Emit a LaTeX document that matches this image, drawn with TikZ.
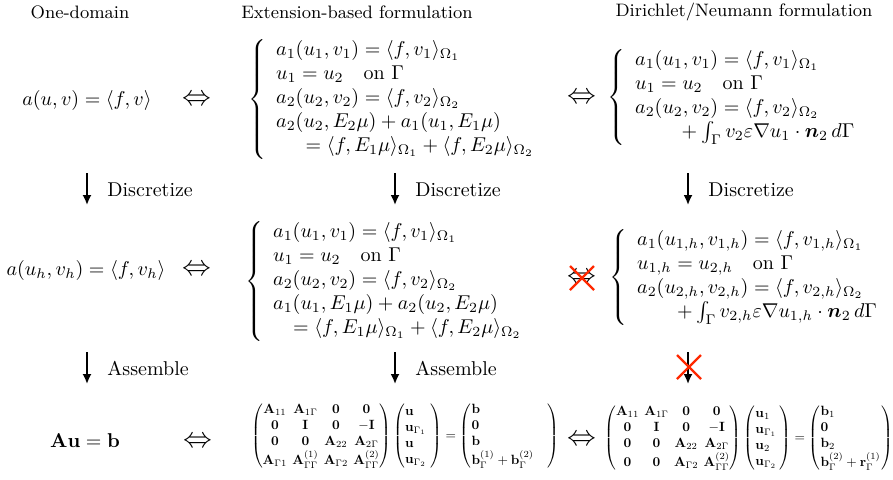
\documentclass[tikz,border=0pt]{standalone}
\usepackage{amsmath,amssymb,graphicx}
\usetikzlibrary{arrows.meta}
\definecolor{xred}{RGB}{255,40,0}
\newcommand{\bigiff}{{\Large$\Leftrightarrow$}}
\newcommand{\tightcols}{\setlength{\arraycolsep}{2pt}}
\begin{document}
\begin{tikzpicture}[x=0.5pt,y=-0.5pt,
  hdr/.style={font=\small, inner sep=0pt},
  eqn/.style={inner sep=0pt},
  sys/.style={inner sep=0pt, anchor=west},
  mat/.style={inner sep=0pt},
  flow/.style={-{Latex[length=5pt,width=4.5pt]}, line width=0.9pt},
  lbl/.style={anchor=west, inner sep=0pt},
  cross/.style={draw=xred, line width=1.1pt}]
\useasboundingbox (0,0) rectangle (893,479);

% headers
\node[hdr] (h1) at (80,12) {One-domain};
\node[hdr] (h2) at (357,12) {Extension-based formulation};
\node[hdr] (h3) at (744,12) {Dirichlet/Neumann formulation};

% row 1
\node[eqn] (r1a) at (87,100) {$a(u,v) = \langle f, v\rangle$};
\node[eqn] (r1i) at (197,100) {\bigiff};
\node[sys] (r1b) at (248,99) {$\left\{\begin{array}{l}
 a_1(u_1,v_1) = \langle f, v_1\rangle_{\Omega_1}\\
 u_1 = u_2 \quad \text{on } \Gamma\\
 a_2(u_2,v_2) = \langle f, v_2\rangle_{\Omega_2}\\
 a_2(u_2,E_2\mu) + a_1(u_1,E_1\mu)\\
 \hspace*{12pt}{}= \langle f, E_1\mu\rangle_{\Omega_1} + \langle f, E_2\mu\rangle_{\Omega_2}
 \end{array}\right.$};
\node[eqn] (r1j) at (582,98) {\bigiff};
\node[sys] (r1c) at (607,97) {$\left\{\begin{array}{l}
 a_1(u_1,v_1) = \langle f, v_1\rangle_{\Omega_1}\\
 u_1 = u_2 \quad \text{on } \Gamma\\
 a_2(u_2,v_2) = \langle f, v_2\rangle_{\Omega_2}\\
 \hspace*{21pt}{}+ \int_\Gamma v_2 \varepsilon \nabla u_1 \cdot \boldsymbol{n}_2 \, d\Gamma
 \end{array}\right.$};

% arrows row 1 -> 2
\coordinate (a1s) at (87,173); \coordinate (a1e) at (87,205);
\coordinate (b1s) at (395,173); \coordinate (b1e) at (395,205);
\coordinate (c1s) at (688,173); \coordinate (c1e) at (688,205);
\draw[flow] (a1s) -- (a1e);
\draw[flow] (b1s) -- (b1e);
\draw[flow] (c1s) -- (c1e);
\node[lbl] (l1a) at (107,190) {Discretize};
\node[lbl] (l1b) at (415,190) {Discretize};
\node[lbl] (l1c) at (708,190) {Discretize};

% row 2
\node[eqn] (r2a) at (86,270) {$a(u_h,v_h) = \langle f, v_h\rangle$};
\node[eqn] (r2i) at (197,270) {\bigiff};
\node[sys] (r2b) at (245,281) {$\left\{\begin{array}{l}
 a_1(u_1,v_1) = \langle f, v_1\rangle_{\Omega_1}\\
 u_1 = u_2 \quad \text{on } \Gamma\\
 a_2(u_2,v_2) = \langle f, v_2\rangle_{\Omega_2}\\
 a_1(u_1,E_1\mu) + a_2(u_2,E_2\mu)\\
 \quad = \langle f, E_1\mu\rangle_{\Omega_1} + \langle f, E_2\mu\rangle_{\Omega_2}
 \end{array}\right.$};
\node[eqn] (r2j) at (582,278) {\bigiff};
\draw[cross] ([shift={(-12,-12)}]r2j.center) -- ([shift={(12,12)}]r2j.center);
\draw[cross] ([shift={(-12,12)}]r2j.center) -- ([shift={(12,-12)}]r2j.center);
\node[sys] (r2c) at (609,277) {$\left\{\begin{array}{l}
 a_1(u_{1,h},v_{1,h}) = \langle f, v_{1,h}\rangle_{\Omega_1}\\
 u_{1,h} = u_{2,h} \quad \text{on } \Gamma\\
 a_2(u_{2,h},v_{2,h}) = \langle f, v_{2,h}\rangle_{\Omega_2}\\
 \qquad + \int_\Gamma v_{2,h} \varepsilon \nabla u_{1,h} \cdot \boldsymbol{n}_2 \, d\Gamma
 \end{array}\right.$};

% arrows row 2 -> 3
\coordinate (a2s) at (87,352); \coordinate (a2e) at (87,384);
\coordinate (b2s) at (395,352); \coordinate (b2e) at (395,384);
\coordinate (c2s) at (688,352); \coordinate (c2e) at (688,384);
\draw[flow] (a2s) -- (a2e);
\draw[flow] (b2s) -- (b2e);
\draw[flow] (c2s) -- (c2e);
\coordinate (xc) at (689,367);
\draw[cross] ([shift={(-12,-12)}]xc) -- ([shift={(12,12)}]xc);
\draw[cross] ([shift={(-12,12)}]xc) -- ([shift={(12,-12)}]xc);
\node[lbl] (l2a) at (107,368) {Assemble};
\node[lbl] (l2b) at (415,368) {Assemble};

% row 3
\node[eqn] (r3a) at (85,441) {$\mathbf{A}\mathbf{u} = \mathbf{b}$};
\node[eqn] (r3i) at (198,442) {\bigiff};
\node[mat] (r3b) at (405,436) {\scalebox{0.67}{\tightcols$\begin{pmatrix}
 \mathbf{A}_{11} & \mathbf{A}_{1\Gamma} & \mathbf{0} & \mathbf{0}\\
 \mathbf{0} & \mathbf{I} & \mathbf{0} & -\mathbf{I}\\
 \mathbf{0} & \mathbf{0} & \mathbf{A}_{22} & \mathbf{A}_{2\Gamma}\\
 \mathbf{A}_{\Gamma 1} & \mathbf{A}_{\Gamma\Gamma}^{(1)} & \mathbf{A}_{\Gamma 2} & \mathbf{A}_{\Gamma\Gamma}^{(2)}
 \end{pmatrix}
 \left(\begin{array}{@{}l@{\hspace{3pt}}}\mathbf{u}\\ \mathbf{u}_{\Gamma_1}\\ \mathbf{u}\\ \mathbf{u}_{\Gamma_2}\end{array}\right)
 = \left(\begin{array}{@{}l@{\hspace{10pt}}}\mathbf{b}\\ \mathbf{0}\\ \mathbf{b}\\ \mathbf{b}_\Gamma^{(1)}+\mathbf{b}_\Gamma^{(2)}\end{array}\right)$}};
\node[eqn] (r3j) at (582,440) {\bigiff};
\node[mat] (r3c) at (749,438) {\scalebox{0.67}{\tightcols$\begin{pmatrix}
 \mathbf{A}_{11} & \mathbf{A}_{1\Gamma} & \mathbf{0} & \mathbf{0}\\
 \mathbf{0} & \mathbf{I} & \mathbf{0} & -\mathbf{I}\\
 \mathbf{0} & \mathbf{0} & \mathbf{A}_{22} & \mathbf{A}_{2\Gamma}\\
 \mathbf{0} & \mathbf{0} & \mathbf{A}_{\Gamma 2} & \mathbf{A}_{\Gamma\Gamma}^{(2)}
 \end{pmatrix}
 \left(\begin{array}{@{}l@{\hspace{2pt}}}\mathbf{u}_1\\ \mathbf{u}_{\Gamma_1}\\ \mathbf{u}_2\\ \mathbf{u}_{\Gamma_2}\end{array}\right)
 = \left(\begin{array}{@{}l@{\hspace{1pt}}}\mathbf{b}_1\\ \mathbf{0}\\ \mathbf{b}_2\\ \mathbf{b}_\Gamma^{(2)}+\mathbf{r}_\Gamma^{(1)}\end{array}\right)$}};
\end{tikzpicture}
\end{document}
